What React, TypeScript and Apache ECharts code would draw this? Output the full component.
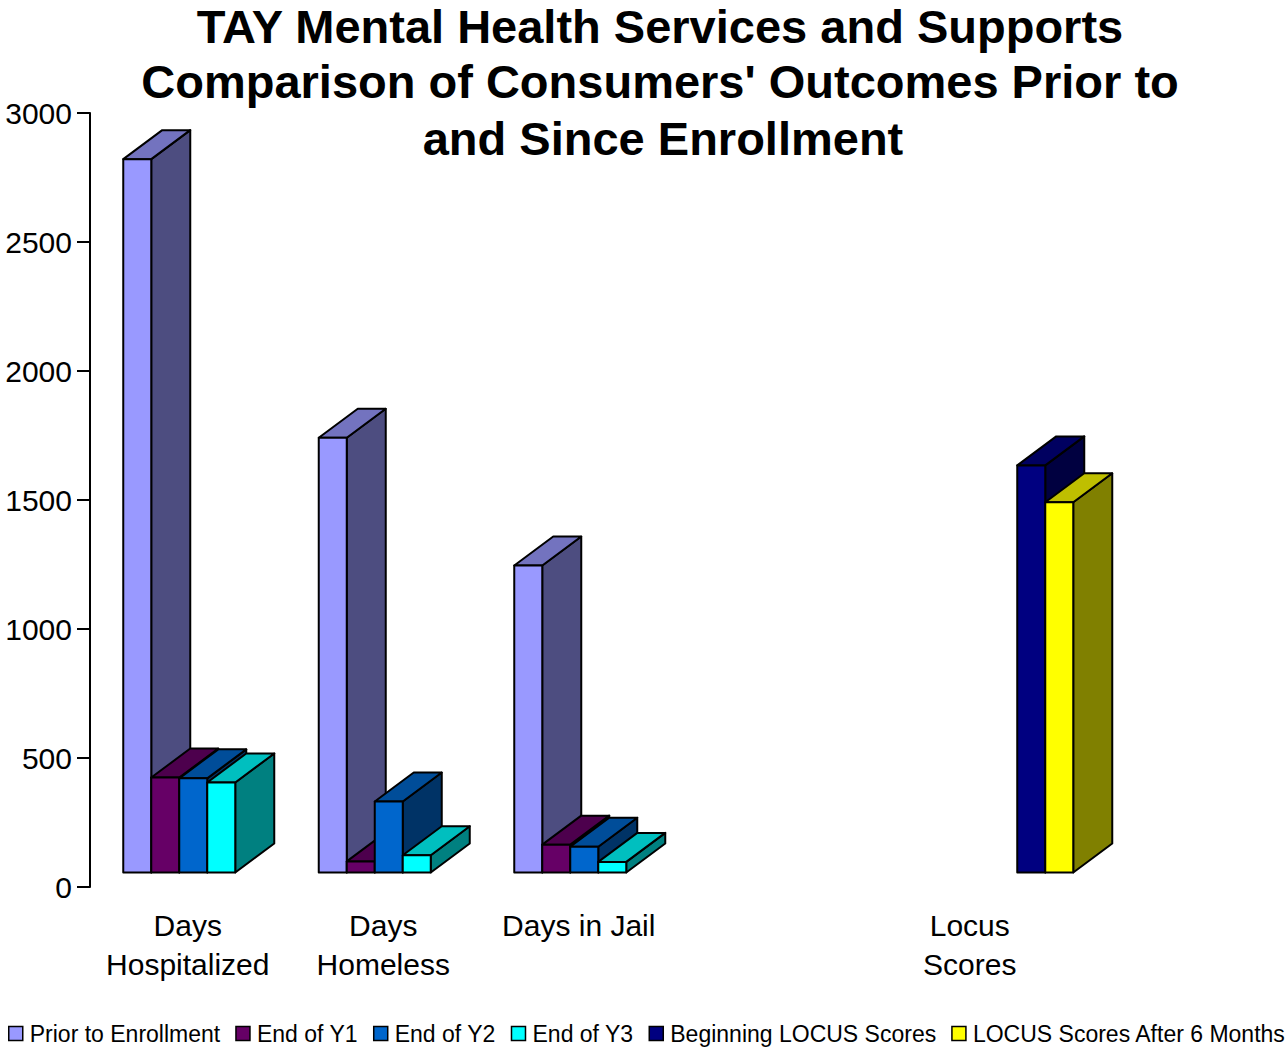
import React, { useEffect, useRef } from "react";
import * as echarts from "echarts";

const categories = ["Days\nHospitalized", "Days\nHomeless", "Days in Jail", "", "Locus\nScores"];
const seriesNames = [
  "Prior to Enrollment",
  "End of Y1",
  "End of Y2",
  "End of Y3",
  "Beginning LOCUS Scores",
  "LOCUS Scores After 6 Months",
];
const titleLines = [
  "TAY Mental Health Services and Supports",
  "Comparison of Consumers' Outcomes Prior to",
  "and Since Enrollment",
];
// [categoryIndex, value]
const priorToEnrollment = [[0, 2765], [1, 1685], [2, 1190]];
const endOfY1 = [[0, 368], [1, 43], [2, 108]];
const endOfY2 = [[0, 365], [1, 275], [2, 100]];
const endOfY3 = [[0, 349], [1, 67], [2, 41]];
const beginningLocus = [[4, 1578]];
const locusAfter6 = [[4, 1435]];
const yTicks = { min: 0, max: 3000, interval: 500 };

const seriesData = [priorToEnrollment, endOfY1, endOfY2, endOfY3, beginningLocus, locusAfter6];

// front, top, side colours
const palette = [
  ["#9999FF", "#7373BF", "#4D4D80"],
  ["#660066", "#4D004D", "#330033"],
  ["#0066CC", "#004D99", "#003366"],
  ["#00FFFF", "#00BFBF", "#008080"],
  ["#000080", "#000060", "#000040"],
  ["#FFFF00", "#BFBF00", "#808000"],
];

const FONT = "'Liberation Sans', Arial, sans-serif";
const DEPTH_X = 39;
const DEPTH_Y = 29;
const TITLE_Y = [3, 58, 115];

export default function App() {
  const ref = useRef<HTMLDivElement>(null);
  useEffect(() => {
    if (!ref.current) return;
    const chart = echarts.init(ref.current, undefined, { renderer: "svg" });
    const nSlots = seriesNames.length;
    const series = seriesData.map((data, si) => ({
      type: "custom",
      name: seriesNames[si],
      data,
      encode: { x: 0, y: 1 },
      itemStyle: { color: palette[si][0], borderColor: "#000", borderWidth: 1.5 },
      renderItem: (params: any, api: any) => {
        const cat = api.value(0);
        const v = api.value(1);
        const base = api.coord([cat, 0]);
        const top = api.coord([cat, v]);
        const band = api.size([1, 0])[0];
        const bw = (band * 28) / 195.5;
        const ox = DEPTH_X / 2;
        const oy = -DEPTH_Y / 2;
        const x0 = base[0] + ox - (nSlots / 2) * bw + params.seriesIndex * bw;
        const x1 = x0 + bw;
        const yb = base[1] + oy;
        const yt = top[1] + oy;
        const stroke = { stroke: "#000", lineWidth: 2, lineJoin: "round" };
        const [cf, ct, cs] = palette[params.seriesIndex];
        return {
          type: "group",
          children: [
            {
              type: "polygon",
              shape: { points: [[x1, yt], [x1 + DEPTH_X, yt - DEPTH_Y], [x1 + DEPTH_X, yb - DEPTH_Y], [x1, yb]] },
              style: { fill: cs, ...stroke },
            },
            {
              type: "polygon",
              shape: { points: [[x0, yt], [x1, yt], [x1 + DEPTH_X, yt - DEPTH_Y], [x0 + DEPTH_X, yt - DEPTH_Y]] },
              style: { fill: ct, ...stroke },
            },
            {
              type: "rect",
              shape: { x: x0, y: yt, width: bw, height: yb - yt },
              style: { fill: cf, ...stroke },
            },
          ],
        };
      },
    }));

    chart.setOption({
      animation: false,
      backgroundColor: "#fff",
      textStyle: { fontFamily: FONT },
      graphic: titleLines.map((t, i) => ({
        type: "text",
        x: i === 2 ? 663 : 660,
        y: TITLE_Y[i],
        style: {
          text: t,
          fill: "#000",
          fontSize: 47,
          fontWeight: "bold",
          fontFamily: FONT,
          lineHeight: 47,
          textAlign: "center",
          textVerticalAlign: "top",
        },
      })),
      legend: {
        data: seriesNames,
        left: 3,
        top: 1017,
        width: 1295,
        icon: "rect",
        itemWidth: 14,
        itemHeight: 14,
        itemGap: 15,
        itemStyle: { borderColor: "#000", borderWidth: 1.5 },
        textStyle: { fontSize: 23, color: "#000", fontFamily: FONT, padding: [0, 0, 0, 2] },
      },
      grid: { left: 90, right: 217.5, top: 113, bottom: 160, containLabel: false, outerBoundsMode: "none" },
      xAxis: {
        type: "category",
        data: categories,
        axisLine: { show: false },
        axisTick: { show: false },
        axisLabel: {
          interval: 0,
          fontSize: 30,
          lineHeight: 39,
          color: "#000",
          margin: 19,
          fontFamily: FONT,
        },
      },
      yAxis: {
        type: "value",
        min: yTicks.min,
        max: yTicks.max,
        interval: yTicks.interval,
        axisLine: { show: true, lineStyle: { color: "#000", width: 2 } },
        axisTick: { show: true, length: 13, lineStyle: { color: "#000", width: 2 } },
        splitLine: { show: false },
        axisLabel: {
          fontSize: 30,
          color: "#000",
          margin: 18,
          fontFamily: FONT,
          formatter: (v: number) => String(v),
        },
      },
      series,
    });
    return () => chart.dispose();
  }, []);
  return (
    <div
      ref={ref}
      style={{ position: "fixed", left: 0, top: 0, width: 1285, height: 1047, background: "#fff" }}
    />
  );
}
